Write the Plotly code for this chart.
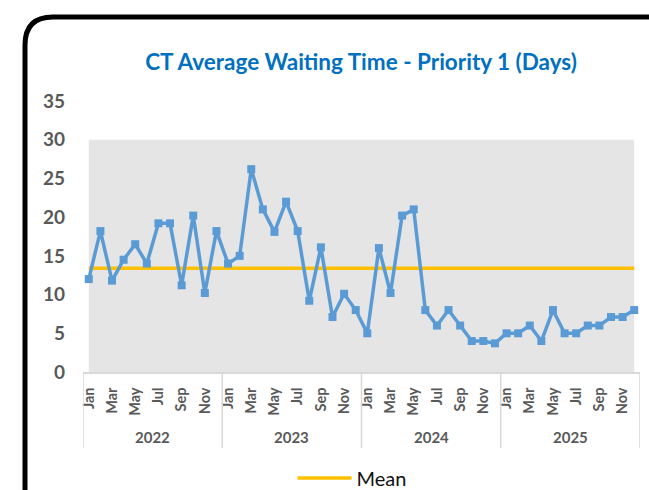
import plotly.graph_objects as go

years = ["2022", "2023", "2024", "2025"]
month_names = ["Jan", "Feb", "Mar", "Apr", "May", "Jun",
               "Jul", "Aug", "Sep", "Oct", "Nov", "Dec"]

wait_2022 = [12.0, 18.2, 11.8, 14.5, 16.5, 14.0, 19.2, 19.2, 11.2, 20.2, 10.2, 18.2]
wait_2023 = [14.0, 15.0, 26.2, 21.0, 18.1, 22.0, 18.2, 9.2, 16.1, 7.1, 10.1, 8.0]
wait_2024 = [5.0, 16.0, 10.2, 20.2, 21.0, 8.0, 6.0, 8.0, 6.0, 4.0, 4.0, 3.7]
wait_2025 = [5.0, 5.0, 6.0, 4.0, 8.0, 5.0, 5.0, 6.0, 6.0, 7.1, 7.1, 8.0]

mean_value = 13.4
band_top = 30

waiting = wait_2022 + wait_2023 + wait_2024 + wait_2025
n = len(waiting)
xs = list(range(n))
tick_vals = [i for i in xs if i % 2 == 0]
tick_text = [month_names[i % 12] for i in tick_vals]

FONT = "Lato"
GREY_TXT = "#595959"
AXIS_GREY = "#D9D9D9"

# plot-area pixel geometry (for frame/legend placement)
L, R, T, B = 83, 9, 101, 118
W, H = 649, 490
pw, ph = W - L - R, H - T - B


def px(xp):
    return (xp - L) / pw


def py(yp):
    return (H - B - yp) / ph


fig = go.Figure()

fig.add_trace(go.Scatter(
    x=xs, y=[band_top] * n, mode="none", fill="tozeroy",
    fillcolor="#E5E5E5", showlegend=False, hoverinfo="skip"))

fig.add_trace(go.Scatter(
    x=xs, y=[mean_value] * n, mode="lines", name="Mean",
    line=dict(color="#FFC000", width=3.5)))

fig.add_trace(go.Scatter(
    x=xs, y=waiting, mode="lines+markers", name="Waiting time",
    line=dict(color="#5B9BD5", width=3.5),
    marker=dict(symbol="square", size=8, color="#5B9BD5"),
    showlegend=False))

shapes = []
for k in range(len(years) + 1):
    xb = k * 12 - 0.5
    shapes.append(dict(type="line", xref="x", yref="paper",
                       x0=xb, x1=xb, y0=0, y1=py(448),
                       line=dict(color=AXIS_GREY, width=1.5)))

# rounded outer frame
fx, fy, r = 25, 17, 28
path = (f"M {px(fx)},{py(520)} L {px(fx)},{py(fy + r)} "
        f"Q {px(fx)},{py(fy)} {px(fx + r)},{py(fy)} L {px(700)},{py(fy)}")
shapes.append(dict(type="path", xref="paper", yref="paper", path=path,
                   line=dict(color="black", width=5)))

annotations = []
for k, yr in enumerate(years):
    annotations.append(dict(
        x=k * 12 + 5.5, y=py(437), xref="x", yref="paper",
        text=yr, showarrow=False, yanchor="middle",
        font=dict(family=FONT, size=15, color=GREY_TXT, weight="bold")))

fig.update_layout(
    width=W, height=H,
    margin=dict(l=L, r=R, t=T, b=B, autoexpand=False),
    paper_bgcolor="white", plot_bgcolor="white",
    title=dict(text="CT Average Waiting Time - Priority 1 (Days)",
               x=px(361), xref="paper", xanchor="center",
               y=1 - 62 / H, yanchor="middle",
               font=dict(family=FONT, size=22.5, color="#0070C0", weight="bold")),
    xaxis=dict(range=[-0.5, n - 0.5], tickmode="array",
               tickvals=tick_vals, ticktext=tick_text, tickangle=-90,
               showgrid=False, zeroline=False, showline=True,
               linecolor=AXIS_GREY, linewidth=1.5, ticks="",
               ticklabelstandoff=8,
               tickfont=dict(family=FONT, size=14.5, color=GREY_TXT, weight="bold")),
    yaxis=dict(range=[0, 35], tickvals=[0, 5, 10, 15, 20, 25, 30, 35],
               showgrid=False, zeroline=False, showline=False, ticks="",
               ticklabelstandoff=17,
               tickfont=dict(family=FONT, size=19, color=GREY_TXT, weight="bold")),
    showlegend=True,
    legend=dict(orientation="h", x=px(352), xanchor="center",
                y=py(478), yanchor="middle", itemwidth=54,
                font=dict(family=FONT, size=20, color="#111111"),
                bgcolor="rgba(0,0,0,0)"),
    shapes=shapes,
    annotations=annotations,
)

fig.write_html("out.html", config={"displayModeBar": False},
               post_script="document.body.style.margin='0px';")
